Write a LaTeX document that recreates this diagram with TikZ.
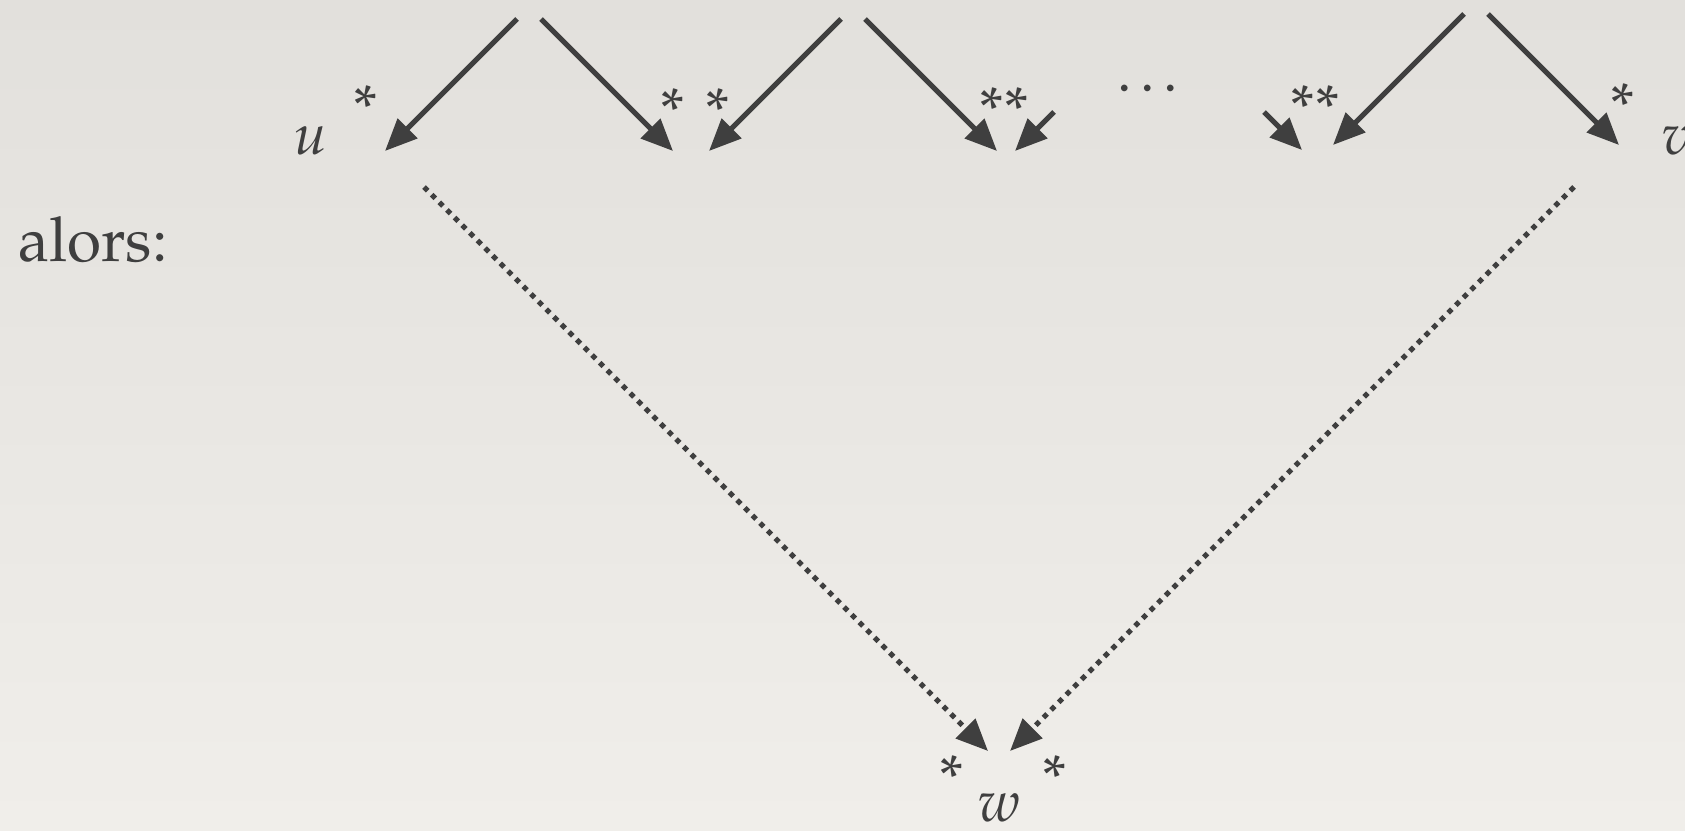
\documentclass[tikz,border=0pt]{standalone}
\usepackage[T1]{fontenc}
\usepackage{mathpazo}
\usetikzlibrary{arrows.meta}
\definecolor{ink}{HTML}{3F3F3F}
\definecolor{bgtop}{HTML}{E2E0DC}
\definecolor{bgbot}{HTML}{F0EEEA}
\begin{document}
\begin{tikzpicture}[x=0.5pt,y=-0.5pt,
  arr/.style={draw=ink, line width=2.6pt, -{Triangle[length=16pt,width=13.5pt]}},
  dotarr/.style={draw=ink, line width=2.6pt, dash pattern=on 2.6pt off 2.8pt, -{Triangle[length=16pt,width=13.5pt]}},
  lbl/.style={text=ink, inner sep=0pt, font=\fontsize{29}{34}\selectfont},
  big/.style={text=ink, inner sep=0pt, font=\fontsize{31}{36}\selectfont},
  starlbl/.style={text=ink, inner sep=0pt, font=\fontsize{31}{36}\selectfont}]
\shade[top color=bgtop, bottom color=bgbot] (0,0) rectangle (1685,830);
\useasboundingbox (0,0) rectangle (1685,830);

% labels
\node[big, anchor=base west] (alors) at (18,261) {alors:};
\node[lbl, anchor=base] (u) at (311,154) {$u$};
\node[lbl, anchor=base] (v) at (1677,154) {$v$};
\node[lbl, anchor=base] (w) at (999,821) {$w$};
\node[starlbl] (st1) at (366,107) {*};
\node[starlbl] (st2) at (695,110) {*\,\,*};
\node[starlbl] (st3) at (1004,109) {**};
\node[lbl] (dots) at (1152,88) {\ldots};
\node[starlbl] (st4) at (1315,107) {**};
\node[starlbl] (st5) at (1623,105) {*};
\node[starlbl] (st6) at (952,777) {*};
\node[starlbl] (st7) at (1055,777) {*};

% arrow ends
\coordinate (s1) at (517,19);  \coordinate (e1) at (385,151);
\coordinate (s2) at (541,19);  \coordinate (e2) at (673,151);
\coordinate (s3) at (841,19);  \coordinate (e3) at (709,151);
\coordinate (s4) at (865,19);  \coordinate (e4) at (997,151);
\coordinate (s5) at (1054,112); \coordinate (e5) at (1015,151);
\coordinate (s6) at (1264,112); \coordinate (e6) at (1302,150);
\coordinate (s7) at (1464,14); \coordinate (e7) at (1333,145);
\coordinate (s8) at (1488,14); \coordinate (e8) at (1619,145);
\coordinate (d1) at (424,187); \coordinate (f1) at (988,751);
\coordinate (d2) at (1574,187); \coordinate (f2) at (1010,751);

\draw[arr] (s1) -- (e1);
\draw[arr] (s2) -- (e2);
\draw[arr] (s3) -- (e3);
\draw[arr] (s4) -- (e4);
\draw[arr] (s5) -- (e5);
\draw[arr] (s6) -- (e6);
\draw[arr] (s7) -- (e7);
\draw[arr] (s8) -- (e8);
\draw[dotarr] (d1) -- (f1);
\draw[dotarr] (d2) -- (f2);
\end{tikzpicture}
\end{document}
